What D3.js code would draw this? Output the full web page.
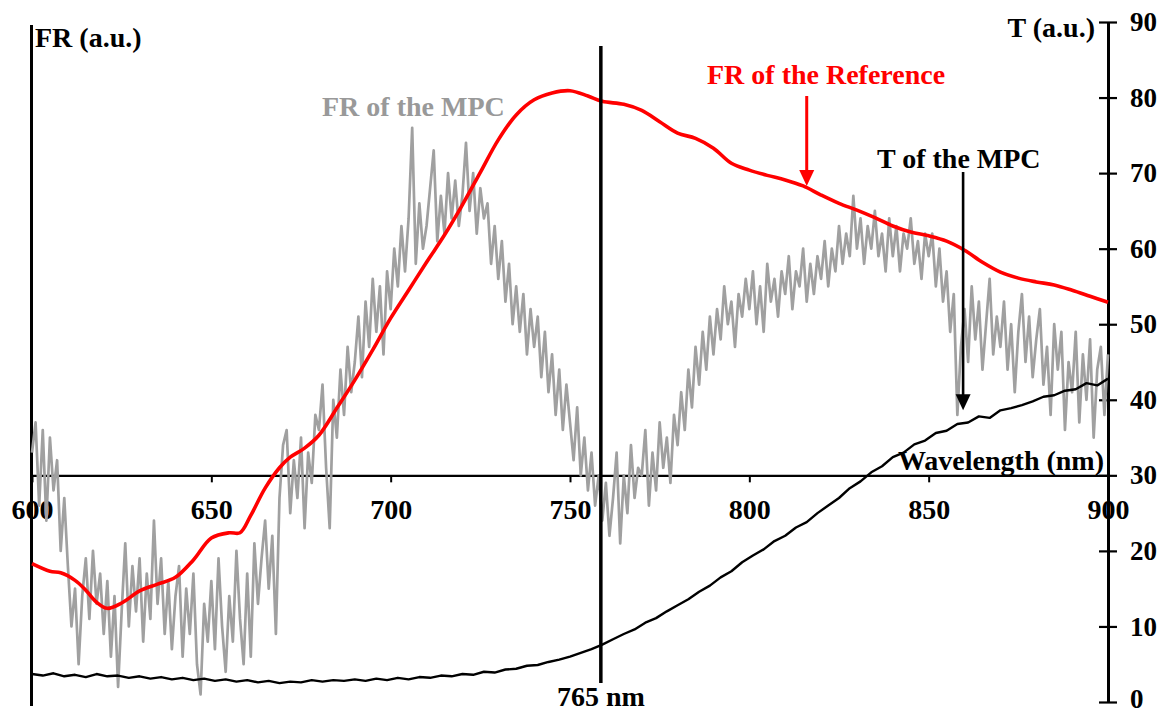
<!DOCTYPE html>
<html>
<head>
<meta charset="utf-8">
<script src="https://cdn.jsdelivr.net/npm/d3@7"></script>
<style>
  html, body { margin: 0; padding: 0; background: #fff; }
  svg { display: block; }
  text { font-family: "Liberation Serif", "Times New Roman", serif; font-weight: bold; }
</style>
</head>
<body>
<svg id="chart" width="1170" height="713"></svg>
<script>
// ---------------- DATA ----------------
const xTicks = [600, 650, 700, 750, 800, 850, 900];
const tTicks = [0, 10, 20, 30, 40, 50, 60, 70, 80, 90];

// FR of the MPC (gray), 1 nm steps from 600 to 900 nm
const grayStart = 600;
const grayFR = [
  33,37,26,36,24,35,28,32,20,27,
  18,10,15,5,14,19,11,20,13,17,
  9,16,6,14,2,12,21,10,18,12,
  19,8,17,11,24,13,19,9,16,7,
  14,18,6,15,9,17,5,1,13,8,
  16,7,19,10,4,14,8,20,11,5,
  17,6,21,13,19,24,15,22,9,27,
  34,36,25,32,27,35,23,33,29,38,
  36,42,31,23,40,35,44,38,47,41,
  45,51,43,53,47,56,49,55,46,57,
  52,60,55,63,57,64,76,58,66,60,
  63,68,73,61,67,62,70,64,69,63,
  67,74,65,70,62,68,64,66,58,63,
  56,61,53,58,50,55,49,54,46,52,
  47,51,43,49,41,46,38,44,36,42,
  37,32,39,30,35,28,33,26,30,24,
  29,22,27,33,21,30,25,34,27,31,
  30,36,26,33,28,37,31,35,29,38,
  34,41,36,44,39,47,42,49,44,51,
  46,52,48,55,50,53,47,54,51,56,
  52,57,50,55,49,58,53,56,51,57,
  54,59,52,57,55,60,53,58,54,59,
  56,61,55,60,57,63,58,62,59,67,
  60,64,58,63,60,65,59,62,57,64,
  59,63,57,62,60,64,58,61,56,62,
  59,62,55,60,53,57,49,54,38,47,
  52,45,55,48,53,44,50,56,46,51,
  47,53,44,50,41,49,54,45,51,43,
  48,52,42,47,38,50,44,49,36,45,
  41,49,37,46,40,48,35,44,47,38,
  46
];

// FR of the Reference (red)
const redWl = [600,605,608,612,615,618,621,625,630,635,640,645,650,655,658,661,665,669,672,676,680,685,690,695,700,705,710,715,720,725,730,735,740,745,750,755,759,765,770,775,780,785,790,795,800,805,810,815,820,825,830,835,840,845,850,855,860,865,870,875,880,885,890,895,900];
const redFR = [18.3,17.3,17.1,16.1,14.8,13.2,12.4,13.1,14.7,15.6,16.5,18.8,21.7,22.4,22.4,24.7,28.3,31.0,32.4,33.6,35.3,38.9,42.6,46.6,50.8,54.5,58.2,61.8,65.8,70.1,74.4,77.7,79.7,80.6,80.9,80.2,79.5,79.1,78.3,76.8,75.3,74.6,73.3,71.3,70.4,69.7,69.1,68.3,67.1,66.0,65.1,64.1,63.0,62.2,61.7,61.0,59.8,58.2,56.9,56.1,55.6,55.2,54.5,53.7,52.9];

// T of the MPC (black), 3 nm steps from 600 to 900 nm
const blackStart = 600;
const blackStep = 3;
const blackT = [
  3.7,3.5,3.8,3.4,3.6,3.3,3.7,3.4,3.5,3.2,
  3.4,3.1,3.3,3.0,3.2,2.9,3.1,2.8,3.0,2.7,
  2.9,2.6,2.8,2.5,2.7,2.6,2.9,2.7,2.9,2.8,
  3.0,2.8,3.1,2.9,3.2,3.0,3.3,3.2,3.5,3.4,
  3.7,3.6,4.0,3.9,4.3,4.4,4.8,4.9,5.3,5.6,
  6.0,6.5,7.0,7.6,8.3,9.0,9.6,10.5,11.1,12.0,
  12.8,13.6,14.6,15.4,16.5,17.3,18.5,19.4,20.2,21.3,
  22.0,23.1,23.8,25.0,26.0,27.0,28.3,29.2,30.4,31.2,
  32.4,33.0,34.1,34.6,35.6,35.9,36.8,37.0,37.8,37.6,
  38.6,38.9,39.3,39.8,40.4,40.6,41.2,41.4,42.2,41.9,
  42.8
];

// Marker line and annotations
const markerWl = 758.6;          // position of the vertical line on the drawn axis
const markerLabel = "765 nm";
const redArrowWl = 816;
const blackArrowWl = 859.6;

// ---------------- DRAW ----------------
const svg = d3.select("#chart");
const x = d3.scaleLinear().domain([600, 900]).range([32, 1108]);
const yT = d3.scaleLinear().domain([0, 90]).range([702, 22]);
const yFR = yT.copy();
const axisY = yT(30);

// left FR axis (no ticks)
svg.append("line").attr("x1", 31.5).attr("x2", 31.5).attr("y1", 25).attr("y2", 706)
  .attr("stroke", "#000").attr("stroke-width", 3);

// x axis
const gx = svg.append("g").attr("transform", `translate(0,${axisY})`)
  .call(d3.axisBottom(x).tickValues(xTicks).tickSize(7).tickSizeOuter(0).tickFormat(d3.format("d")));
gx.select(".domain").attr("stroke-width", 2.2);
gx.selectAll(".tick line").attr("stroke-width", 2);
gx.selectAll(".tick text").attr("y", 24).attr("font-size", 28)
  .attr("font-family", '"Liberation Serif", "Times New Roman", serif').attr("font-weight", "bold").attr("fill", "#000");

// right T axis
const gy = svg.append("g").attr("transform", `translate(1108,0)`)
  .call(d3.axisRight(yT).tickValues(tTicks).tickSize(8).tickSizeOuter(0));
gy.select(".domain").attr("stroke-width", 3);
gy.selectAll(".tick line").attr("x1", -9).attr("x2", 9).attr("stroke-width", 2.2);
gy.selectAll(".tick text").attr("x", 22).attr("font-size", 27)
  .attr("dy", d => d === 0 ? "0.2em" : "0.32em")
  .attr("font-family", '"Liberation Serif", "Times New Roman", serif').attr("font-weight", "bold").attr("fill", "#000");

// gray FR of MPC
const grayData = grayFR.map((v, i) => [grayStart + i, v]);
svg.append("path").datum(grayData)
  .attr("fill", "none").attr("stroke", "#a0a0a0").attr("stroke-width", 2.7).attr("stroke-linejoin", "round")
  .attr("d", d3.line().x(d => x(d[0])).y(d => yFR(d[1])));

// black T
const blackData = blackT.map((v, i) => [blackStart + i * blackStep, v]);
svg.append("path").datum(blackData)
  .attr("fill", "none").attr("stroke", "#000").attr("stroke-width", 2.4).attr("stroke-linejoin", "round")
  .attr("d", d3.line().x(d => x(d[0])).y(d => yT(d[1])));

// red reference
const redData = redWl.map((w, i) => [w, redFR[i]]);
svg.append("path").datum(redData)
  .attr("fill", "none").attr("stroke", "#ff0000").attr("stroke-width", 3.6)
  .attr("d", d3.line().curve(d3.curveCatmullRom.alpha(0.5)).x(d => x(d[0])).y(d => yFR(d[1])));

// vertical marker line
svg.append("line").attr("x1", x(markerWl)).attr("x2", x(markerWl)).attr("y1", 46).attr("y2", 683)
  .attr("stroke", "#000").attr("stroke-width", 3.5);

// arrows
function arrow(xp, y1, yTip, color, w) {
  svg.append("line").attr("x1", xp).attr("x2", xp).attr("y1", y1).attr("y2", yTip - 14)
    .attr("stroke", color).attr("stroke-width", w);
  svg.append("path").attr("d", `M${xp - 7.5},${yTip - 16} L${xp + 7.5},${yTip - 16} L${xp},${yTip} Z`).attr("fill", color);
}
arrow(x(redArrowWl), 96, yFR(68.3), "#ff0000", 3);
arrow(x(blackArrowWl), 172, yT(38.6), "#000", 2.6);

// texts
function label(t, xp, yp, color, anchor) {
  svg.append("text").attr("x", xp).attr("y", yp).attr("fill", color).attr("font-size", 28)
    .attr("text-anchor", anchor || "start").text(t);
}
label("FR (a.u.)", 35, 47, "#000");
label("T (a.u.)", 1095, 37, "#000", "end");
label("FR of the MPC", 322, 116, "#999999");
label("FR of the Reference", 707, 84, "#ff0000");
label("T of the MPC", 877, 168, "#000");
label("Wavelength (nm)", 1104, 470, "#000", "end");
label(markerLabel, x(markerWl), 706, "#000", "middle");
</script>
</body>
</html>
